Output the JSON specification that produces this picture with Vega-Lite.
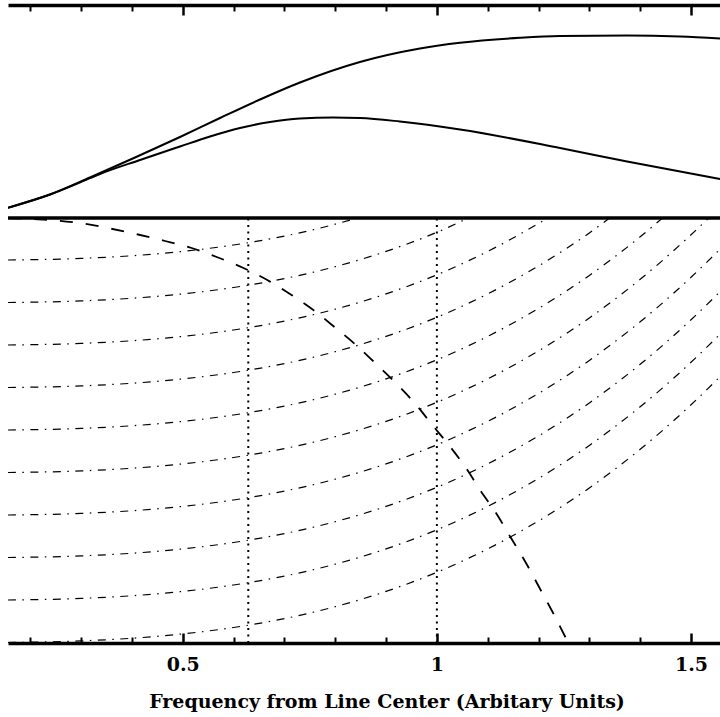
{
  "$schema": "https://vega.github.io/schema/vega-lite/v6.json",
  "width": 712,
  "height": 638,
  "autosize": "none",
  "padding": {"left": 8, "top": 5, "right": 0, "bottom": 74},
  "background": "white",
  "config": {"view": {"stroke": null}},
  "datasets": {
    "top": [
      {"u": 0.1563, "v": 435.3, "s": "A"}, {"u": 0.2389, "v": 448.5, "s": "A"}, {"u": 0.3176, "v": 465.5, "s": "A"},
      {"u": 0.4062, "v": 485.5, "s": "A"}, {"u": 0.4947, "v": 506, "s": "A"}, {"u": 0.5734, "v": 525, "s": "A"},
      {"u": 0.6521, "v": 543.5, "s": "A"}, {"u": 0.7307, "v": 560.5, "s": "A"}, {"u": 0.8486, "v": 581, "s": "A"},
      {"u": 0.9667, "v": 594.5, "s": "A"}, {"u": 1.0456, "v": 600.3, "s": "A"}, {"u": 1.1636, "v": 605.2, "s": "A"},
      {"u": 1.2423, "v": 607, "s": "A"}, {"u": 1.3741, "v": 607.5, "s": "A"}, {"u": 1.4784, "v": 606.5, "s": "A"},
      {"u": 1.5571, "v": 604.5, "s": "A"},
      {"u": 0.1563, "v": 435.3, "s": "B"}, {"u": 0.2389, "v": 448.5, "s": "B"}, {"u": 0.3176, "v": 464.8, "s": "B"},
      {"u": 0.3373, "v": 469, "s": "B"}, {"u": 0.416, "v": 483, "s": "B"}, {"u": 0.4947, "v": 496.5, "s": "B"},
      {"u": 0.5537, "v": 506.5, "s": "B"}, {"u": 0.6127, "v": 515, "s": "B"}, {"u": 0.6718, "v": 521, "s": "B"},
      {"u": 0.7307, "v": 524.5, "s": "B"}, {"u": 0.7957, "v": 525.5, "s": "B"}, {"u": 0.8486, "v": 525, "s": "B"},
      {"u": 0.9273, "v": 521.5, "s": "B"}, {"u": 1.0456, "v": 513.5, "s": "B"}, {"u": 1.2423, "v": 495, "s": "B"},
      {"u": 1.3741, "v": 481.5, "s": "B"}, {"u": 1.5571, "v": 464, "s": "B"}
    ],
    "dd": [
      {"u": 0.156, "v": 383, "c": 1}, {"u": 0.3, "v": 384.6, "c": 1}, {"u": 0.45, "v": 389.2, "c": 1}, {"u": 0.6, "v": 398, "c": 1}, {"u": 0.7, "v": 406.9, "c": 1}, {"u": 0.8, "v": 418.8, "c": 1}, {"u": 0.843, "v": 425, "c": 1},
      {"u": 0.156, "v": 340.5, "c": 2}, {"u": 0.3, "v": 342.1, "c": 2}, {"u": 0.45, "v": 346.7, "c": 2}, {"u": 0.6, "v": 355.5, "c": 2}, {"u": 0.7, "v": 364.4, "c": 2}, {"u": 0.8, "v": 376.3, "c": 2}, {"u": 0.9, "v": 391.6, "c": 2}, {"u": 1.0, "v": 410.7, "c": 2}, {"u": 1.062, "v": 425, "c": 2},
      {"u": 0.156, "v": 298, "c": 3}, {"u": 0.3, "v": 299.6, "c": 3}, {"u": 0.45, "v": 304.2, "c": 3}, {"u": 0.6, "v": 313, "c": 3}, {"u": 0.7, "v": 321.9, "c": 3}, {"u": 0.8, "v": 333.8, "c": 3}, {"u": 0.9, "v": 349.1, "c": 3}, {"u": 1.0, "v": 368.2, "c": 3}, {"u": 1.1, "v": 391.6, "c": 3}, {"u": 1.2, "v": 419.6, "c": 3}, {"u": 1.2176, "v": 425, "c": 3},
      {"u": 0.156, "v": 255.5, "c": 4}, {"u": 0.3, "v": 257.1, "c": 4}, {"u": 0.45, "v": 261.7, "c": 4}, {"u": 0.6, "v": 270.5, "c": 4}, {"u": 0.7, "v": 279.4, "c": 4}, {"u": 0.8, "v": 291.3, "c": 4}, {"u": 0.9, "v": 306.6, "c": 4}, {"u": 1.0, "v": 325.7, "c": 4}, {"u": 1.1, "v": 349.1, "c": 4}, {"u": 1.2, "v": 377.1, "c": 4}, {"u": 1.3, "v": 410.1, "c": 4}, {"u": 1.34, "v": 425, "c": 4},
      {"u": 0.156, "v": 213, "c": 5}, {"u": 0.3, "v": 214.6, "c": 5}, {"u": 0.45, "v": 219.2, "c": 5}, {"u": 0.6, "v": 228, "c": 5}, {"u": 0.7, "v": 236.9, "c": 5}, {"u": 0.8, "v": 248.8, "c": 5}, {"u": 0.9, "v": 264.1, "c": 5}, {"u": 1.0, "v": 283.2, "c": 5}, {"u": 1.1, "v": 306.6, "c": 5}, {"u": 1.2, "v": 334.6, "c": 5}, {"u": 1.3, "v": 367.6, "c": 5}, {"u": 1.4, "v": 406.2, "c": 5}, {"u": 1.444, "v": 425, "c": 5},
      {"u": 0.156, "v": 170.5, "c": 6}, {"u": 0.3, "v": 172.1, "c": 6}, {"u": 0.45, "v": 176.7, "c": 6}, {"u": 0.6, "v": 185.5, "c": 6}, {"u": 0.7, "v": 194.4, "c": 6}, {"u": 0.8, "v": 206.3, "c": 6}, {"u": 0.9, "v": 221.6, "c": 6}, {"u": 1.0, "v": 240.7, "c": 6}, {"u": 1.1, "v": 264.1, "c": 6}, {"u": 1.2, "v": 292.1, "c": 6}, {"u": 1.3, "v": 325.1, "c": 6}, {"u": 1.4, "v": 363.7, "c": 6}, {"u": 1.5, "v": 408.2, "c": 6}, {"u": 1.535, "v": 425, "c": 6},
      {"u": 0.156, "v": 128, "c": 7}, {"u": 0.3, "v": 129.6, "c": 7}, {"u": 0.45, "v": 134.2, "c": 7}, {"u": 0.6, "v": 143, "c": 7}, {"u": 0.7, "v": 151.9, "c": 7}, {"u": 0.8, "v": 163.8, "c": 7}, {"u": 0.9, "v": 179.1, "c": 7}, {"u": 1.0, "v": 198.2, "c": 7}, {"u": 1.1, "v": 221.6, "c": 7}, {"u": 1.2, "v": 249.6, "c": 7}, {"u": 1.3, "v": 282.6, "c": 7}, {"u": 1.4, "v": 321.2, "c": 7}, {"u": 1.5, "v": 365.7, "c": 7}, {"u": 1.557, "v": 393.8, "c": 7},
      {"u": 0.156, "v": 85.5, "c": 8}, {"u": 0.3, "v": 87.1, "c": 8}, {"u": 0.45, "v": 91.7, "c": 8}, {"u": 0.6, "v": 100.5, "c": 8}, {"u": 0.7, "v": 109.4, "c": 8}, {"u": 0.8, "v": 121.3, "c": 8}, {"u": 0.9, "v": 136.6, "c": 8}, {"u": 1.0, "v": 155.7, "c": 8}, {"u": 1.1, "v": 179.1, "c": 8}, {"u": 1.2, "v": 207.1, "c": 8}, {"u": 1.3, "v": 240.1, "c": 8}, {"u": 1.4, "v": 278.7, "c": 8}, {"u": 1.5, "v": 323.2, "c": 8}, {"u": 1.557, "v": 351.3, "c": 8},
      {"u": 0.156, "v": 43, "c": 9}, {"u": 0.3, "v": 44.6, "c": 9}, {"u": 0.45, "v": 49.2, "c": 9}, {"u": 0.6, "v": 58, "c": 9}, {"u": 0.7, "v": 66.9, "c": 9}, {"u": 0.8, "v": 78.8, "c": 9}, {"u": 0.9, "v": 94.1, "c": 9}, {"u": 1.0, "v": 113.2, "c": 9}, {"u": 1.1, "v": 136.6, "c": 9}, {"u": 1.2, "v": 164.6, "c": 9}, {"u": 1.3, "v": 197.6, "c": 9}, {"u": 1.4, "v": 236.2, "c": 9}, {"u": 1.5, "v": 280.7, "c": 9}, {"u": 1.557, "v": 308.8, "c": 9},
      {"u": 0.156, "v": 0.5, "c": 10}, {"u": 0.3, "v": 2.1, "c": 10}, {"u": 0.45, "v": 6.7, "c": 10}, {"u": 0.6, "v": 15.5, "c": 10}, {"u": 0.7, "v": 24.4, "c": 10}, {"u": 0.8, "v": 36.3, "c": 10}, {"u": 0.9, "v": 51.6, "c": 10}, {"u": 1.0, "v": 70.7, "c": 10}, {"u": 1.1, "v": 94.1, "c": 10}, {"u": 1.2, "v": 122.1, "c": 10}, {"u": 1.3, "v": 155.1, "c": 10}, {"u": 1.4, "v": 193.7, "c": 10}, {"u": 1.5, "v": 238.2, "c": 10}, {"u": 1.557, "v": 266.3, "c": 10}
    ],
    "dash": [
      {"u": 0.1563, "v": 425}, {"u": 0.3039, "v": 419.5}, {"u": 0.357, "v": 414.5}, {"u": 0.4121, "v": 408.5},
      {"u": 0.4652, "v": 402}, {"u": 0.5177, "v": 395}, {"u": 0.5669, "v": 386}, {"u": 0.6173, "v": 375.5},
      {"u": 0.6664, "v": 363}, {"u": 0.7125, "v": 348.5}, {"u": 0.7583, "v": 332.5}, {"u": 0.801, "v": 315},
      {"u": 0.8409, "v": 298}, {"u": 0.8817, "v": 278.5}, {"u": 0.9222, "v": 258.5}, {"u": 0.9604, "v": 237.5},
      {"u": 0.9918, "v": 217.5}, {"u": 1.0265, "v": 196}, {"u": 1.0587, "v": 174}, {"u": 1.0863, "v": 152},
      {"u": 1.1164, "v": 130}, {"u": 1.1453, "v": 105.5}, {"u": 1.1748, "v": 80.5}, {"u": 1.201, "v": 56},
      {"u": 1.2271, "v": 31.5}, {"u": 1.2586, "v": 0}
    ],
    "dots": [
      {"u": 0.629, "v": 0, "v2": 425},
      {"u": 1.0, "v": 0, "v2": 425}
    ],
    "mid": [{"v": 425}]
  },
  "resolve": {"axis": {"x": "independent"}},
  "layer": [
    {
      "data": {"name": "top"},
      "mark": {"type": "line", "color": "black", "strokeWidth": 2, "interpolate": "monotone", "clip": true},
      "encoding": {
        "x": {"field": "u", "type": "quantitative",
          "scale": {"domain": [0.1563, 1.557], "nice": false, "zero": false},
          "axis": {"orient": "bottom", "values": [0.2, 0.3, 0.4, 0.6, 0.7, 0.8, 0.9, 1.1, 1.2, 1.3, 1.4],
            "tickSize": -6, "tickWidth": 2, "tickColor": "black", "labels": false, "grid": false,
            "domain": true, "domainWidth": 3.3, "domainColor": "black", "title": null}},
        "y": {"field": "v", "type": "quantitative", "scale": {"domain": [0, 638], "nice": false, "zero": false}, "axis": null},
        "detail": {"field": "s"}
      }
    },
    {
      "data": {"name": "dd"},
      "mark": {"type": "line", "color": "black", "strokeWidth": 1.2, "strokeDash": [8, 6.5, 1.5, 6.5], "interpolate": "monotone", "clip": true},
      "encoding": {
        "x": {"field": "u", "type": "quantitative",
          "axis": {"orient": "bottom", "values": [0.5, 1, 1.5],
            "tickSize": -10, "tickWidth": 2.5, "tickColor": "black", "grid": false, "domain": false,
            "labels": true, "labelExpr": "'' + datum.value", "labelFont": "DejaVu Serif", "labelFontWeight": "bold",
            "labelFontSize": 19, "labelColor": "black", "labelPadding": 22, "labelFlush": false,
            "title": "Frequency from Line Center (Arbitary Units)", "titleFont": "DejaVu Serif", "titleFontWeight": "bold",
            "titleFontSize": 19, "titleColor": "black", "titleX": 378.5, "titleY": 64, "titleBaseline": "alphabetic", "titleAlign": "center"}},
        "y": {"field": "v", "type": "quantitative", "axis": null},
        "detail": {"field": "c"}
      }
    },
    {
      "data": {"name": "dash"},
      "mark": {"type": "line", "color": "black", "strokeWidth": 1.8, "strokeDash": [13, 13], "interpolate": "monotone", "clip": true},
      "encoding": {
        "x": {"field": "u", "type": "quantitative",
          "axis": {"orient": "top", "values": [0.2, 0.3, 0.4, 0.6, 0.7, 0.8, 0.9, 1.1, 1.2, 1.3, 1.4],
            "tickSize": -6, "tickWidth": 2, "tickColor": "black", "labels": false, "grid": false,
            "domain": true, "domainWidth": 3.3, "domainColor": "black", "title": null}},
        "y": {"field": "v", "type": "quantitative", "axis": null}
      }
    },
    {
      "data": {"name": "dots"},
      "mark": {"type": "rule", "color": "black", "strokeWidth": 2, "strokeDash": [2, 4.5]},
      "encoding": {
        "x": {"field": "u", "type": "quantitative",
          "axis": {"orient": "top", "values": [0.5, 1, 1.5],
            "tickSize": -10, "tickWidth": 2.5, "tickColor": "black", "labels": false, "grid": false,
            "domain": false, "title": null}},
        "y": {"field": "v", "type": "quantitative", "axis": null},
        "y2": {"field": "v2"}
      }
    },
    {
      "data": {"name": "mid"},
      "mark": {"type": "rule", "color": "black", "strokeWidth": 3.3},
      "encoding": {
        "y": {"field": "v", "type": "quantitative", "axis": null}
      }
    }
  ]
}
